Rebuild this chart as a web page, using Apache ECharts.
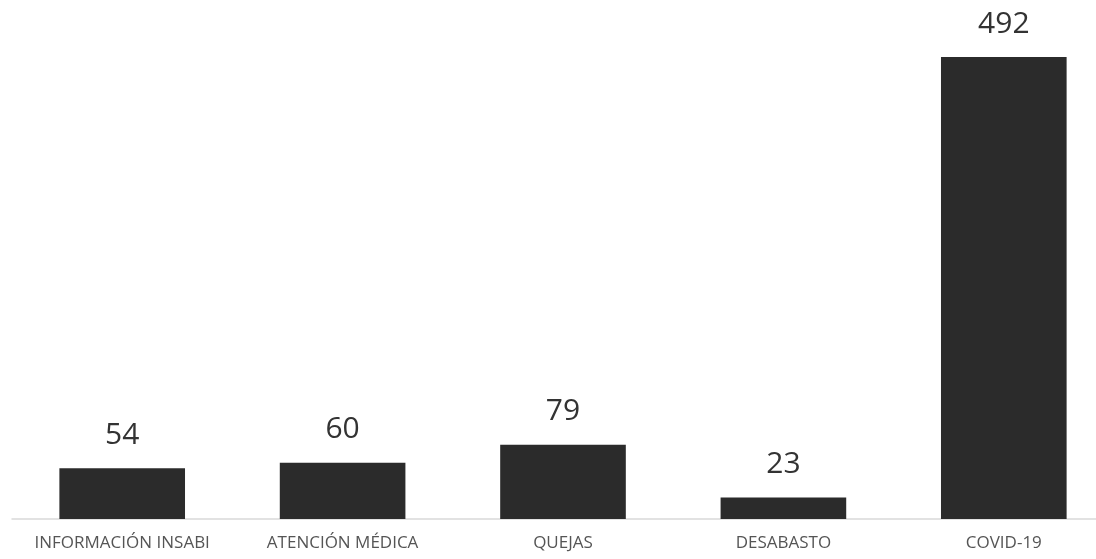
<!DOCTYPE html>
<html lang="es">
<head>
    <meta charset="UTF-8">
    <title>Solicitudes por tema</title>
    <script src="https://cdn.jsdelivr.net/npm/echarts@6/dist/echarts.min.js"></script>
    <style>
        html, body { margin: 0; padding: 0; background: #fff; }
    </style>
</head>
<body>
    <div id="main" style="width: 1096px;height:559px;"></div>
    <script type="text/javascript">
        // datos del gráfico
        var categorias = ['INFORMACIÓN INSABI', 'ATENCIÓN MÉDICA', 'QUEJAS', 'DESABASTO', 'COVID-19'];
        var valores = [54, 60, 79, 23, 492];

        var myChart = echarts.init(document.getElementById('main'));

        var option = {
            animation: false,
            // la última categoría se sale un poco del lienzo, como en la imagen original
            grid: { left: 12, width: 1102, top: 57, bottom: 40, outerBoundsMode: 'none' },
            xAxis: {
                type: 'category',
                data: categorias,
                axisLine: { lineStyle: { color: '#d9d9d9', width: 1.5 } },
                axisTick: { show: false },
                axisLabel: {
                    interval: 0,
                    color: '#555',
                    fontSize: 17,
                    fontFamily: 'Open Sans',
                    margin: 16
                }
            },
            yAxis: {
                type: 'value',
                min: 0,
                max: 'dataMax',
                show: false,
                splitLine: { show: false }
            },
            series: [{
                type: 'bar',
                data: valores,
                barWidth: '57%',
                itemStyle: { color: '#2b2b2b' },
                label: {
                    show: true,
                    position: 'top',
                    distance: 18,
                    color: '#333',
                    fontSize: 30,
                    fontFamily: 'Open Sans'
                }
            }]
        };

        myChart.setOption(option);
    </script>
</body>
</html>
